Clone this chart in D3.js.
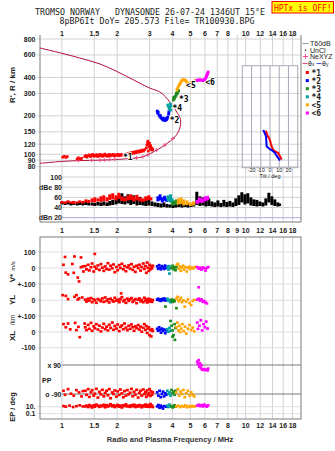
<!DOCTYPE html>
<html>
<head>
<meta charset="utf-8">
<script src="https://cdn.jsdelivr.net/npm/d3@7"></script>
<style>
  html, body { margin: 0; padding: 0; background: #fff; }
  svg { display: block; }
  text { font-family: "Liberation Sans", Arial, sans-serif; fill: #222; }
  .mono { font-family: "DejaVu Sans Mono", "Liberation Mono", monospace; }
</style>
</head>
<body>
<div id="chart"></div>
<script>
// ---- header text
const title1 = 'TROMSO NORWAY   DYNASONDE 26-07-24 1346UT 15°E';
const title2 = '8pBP6It DoY= 205.573 File= TR100930.BPG';
const warnText = 'HPTx is OFF!';

// ---- ticks
const freqTicks = [1, 1.5, 2, 3, 4, 5, 6, 7, 8, 10, 12, 14, 16, 18];
const freqTicksMid = [1, 1.5, 2, 3, 4, 5, 6, 7, 8, 9, 10, 12, 14, 16, 18];
const heightTicks = [800, 600, 400, 300, 200, 150, 120, 100, 90, 80];
const ampTicks = [100, 80, 60, 40, 20];
const ampLabels = ['100', 'dBe 80', '60', '40', 'dBn 20'];
const tiltTicks = [-20, -10, 0, 10, 20];

// ---- model profile curve (MHz, km) and NeXYZ markers
const profile = [[0.76, 680], [1.0, 618], [1.25, 568], [1.61, 510], [2.0, 444], [2.34, 396], [2.65, 361],
  [3.01, 330], [3.41, 308], [3.67, 281], [3.86, 257], [4.06, 234], [4.22, 214], [4.38, 196], [4.43, 179],
  [4.40, 164], [4.27, 147], [4.06, 134], [3.77, 123], [3.50, 114], [3.20, 106], [2.93, 99], [2.65, 94.5],
  [2.07, 91.5], [1.61, 90], [1.25, 89.3], [1.0, 88], [0.76, 85]];
const neXYZ = [[1.23, 89.5], [1.45, 89.8], [1.61, 90], [1.71, 90.5], [1.82, 91], [1.94, 91.3], [2.55, 94],
  [2.76, 96], [2.94, 99], [3.27, 108], [3.63, 118], [4.02, 133]];

// ---- echo traces, virtual height (MHz, km)
const trace1 = [[1.01, 95], [1.03, 96.5], [1.05, 94.5], [1.07, 96], [1.21, 92], [1.23, 94], [1.26, 91.5], [1.28, 93],
  [1.33, 96], [1.35, 98], [1.37, 95], [1.39, 97.5], [1.41, 99], [1.43, 96], [1.45, 98], [1.47, 100], [1.49, 96.5],
  [1.51, 98.5], [1.53, 97], [1.55, 99.5], [1.57, 96], [1.59, 98], [1.61, 100], [1.63, 97], [1.65, 99], [1.67, 96.5],
  [1.69, 98.5], [1.71, 100.5], [1.73, 97.5], [1.75, 99], [1.77, 96.5], [1.79, 98], [1.81, 100], [1.83, 97], [1.85, 99],
  [1.88, 98], [1.9, 100], [1.93, 97], [1.95, 99], [1.98, 98], [2.01, 100], [2.04, 97.5], [2.07, 99.5], [2.1, 98],
  [2.13, 100], [2.16, 99], [2.19, 97.5], [2.25, 101], [2.28, 99.5], [2.31, 102], [2.34, 100.5], [2.37, 103], [2.40, 101],
  [2.44, 104], [2.47, 102], [2.51, 105], [2.54, 103], [2.58, 106], [2.62, 104], [2.66, 107], [2.7, 105], [2.74, 108],
  [2.78, 106], [2.82, 109], [2.88, 112], [2.9, 118], [2.92, 124], [2.94, 127], [2.96, 120], [2.98, 115], [3.0, 122],
  [3.02, 110], [3.04, 117], [3.06, 113], [3.08, 108], [3.1, 111], [2.95, 106], [3.12, 109]];
const trace2 = [[3.30, 218], [3.32, 210], [3.38, 203], [3.41, 199], [3.45, 194], [3.50, 190], [3.53, 188], [3.58, 185],
  [3.63, 185], [3.67, 185], [3.70, 187], [3.74, 192], [3.77, 196], [3.81, 207], [3.82, 215], [3.34, 214], [3.43, 201],
  [3.55, 192], [3.62, 190], [3.72, 190]];
const trace3 = [[4.04, 266], [4.08, 272], [4.11, 279], [4.15, 285], [4.19, 291], [4.23, 298], [4.27, 305], [4.32, 315], [4.06, 280], [4.2, 300]];
const trace4 = [[3.77, 243], [3.81, 235], [3.86, 231], [3.91, 222], [3.94, 239], [3.88, 248], [3.84, 226]];
const trace5 = [[4.22, 319], [4.27, 330], [4.32, 343], [4.36, 352], [4.41, 361], [4.45, 370], [4.49, 378], [4.55, 383],
  [4.60, 385], [4.66, 381], [4.72, 378], [4.78, 368], [4.84, 361], [4.90, 360], [4.96, 359], [5.03, 362], [5.09, 365],
  [5.15, 368], [5.22, 371], [5.28, 375], [5.35, 378]];
const trace6 = [[5.41, 378], [5.48, 381], [5.55, 382], [5.62, 382], [5.70, 382], [5.77, 380], [5.84, 378], [5.92, 382],
  [5.99, 385], [6.05, 394], [6.10, 403], [6.14, 412], [6.17, 421], [6.21, 431], [6.25, 441]];
const traceLabels = [['*1', 2.15, 95.5], ['*2', 3.86, 185], ['*3', 4.34, 272], ['*4', 4.0, 231], ['<5', 4.74, 348], ['<6', 6.02, 370]];

// ---- tilt inset (deg, km)
const thetaX = [[-4.7, 153], [-3.5, 146], [-2.9, 141], [-1, 134], [0, 129.5], [0.8, 122], [2, 115], [3.6, 108], [6, 105],
  [9, 102.5], [11, 96], [12.7, 91]];
const thetaY = [[-7.3, 155], [-6, 148], [-4.3, 138], [-4, 128], [-3.6, 115], [-1, 111], [1.8, 108], [5.4, 102.5], [7, 98],
  [9, 93.5], [10.8, 89.5]];

// ---- amplitudes (MHz, low dB, high dB)
const ampUnCl = [[1.00, 46, 52], [1.04, 45, 51], [1.08, 46, 53], [1.12, 44, 50], [1.16, 45, 52], [1.21, 44, 49], [1.25, 45, 51],
  [1.30, 44, 50], [1.35, 45, 52], [1.40, 44, 49], [1.46, 44, 50], [1.51, 43, 49], [1.57, 44, 51], [1.63, 43, 50], [1.69, 44, 52],
  [1.76, 43, 50], [1.82, 44, 53], [1.89, 45, 55], [1.97, 46, 58], [2.04, 48, 63], [2.12, 47, 68], [2.20, 46, 62], [2.29, 48, 66],
  [2.37, 45, 60], [2.46, 47, 64], [2.56, 44, 58], [2.66, 45, 61], [2.76, 44, 56], [2.86, 43, 54], [2.97, 44, 60], [3.09, 43, 52],
  [3.21, 42, 50], [3.33, 41, 49], [3.46, 40, 48], [3.59, 41, 50], [3.73, 40, 47], [3.87, 40, 46], [4.02, 39, 45], [4.17, 40, 47],
  [4.33, 41, 48], [4.50, 40, 49], [4.67, 41, 46], [4.85, 40, 48], [5.03, 41, 47], [5.22, 42, 48], [5.42, 45, 71], [5.63, 43, 62],
  [5.85, 44, 60], [6.07, 42, 56], [6.30, 43, 58], [6.55, 42, 52], [6.80, 41, 50], [7.06, 42, 54], [7.33, 41, 49], [7.61, 42, 55],
  [7.90, 41, 51], [8.20, 42, 53], [8.52, 41, 50], [8.84, 43, 58], [9.18, 45, 64], [9.53, 50, 70], [9.90, 46, 66], [10.27, 48, 68],
  [10.67, 44, 60], [11.08, 43, 56], [11.50, 42, 55], [11.94, 43, 52], [12.40, 42, 50], [12.87, 44, 58], [13.37, 50, 69],
  [13.88, 45, 62], [14.41, 43, 56], [14.96, 42, 50], [15.3, 43, 48]];
const amp1 = [[1.0, 48, 53], [1.04, 47, 52], [1.08, 49, 54], [1.12, 48, 52], [1.16, 47, 53], [1.21, 48, 52], [1.25, 49, 54],
  [1.30, 48, 53], [1.35, 50, 56], [1.40, 49, 55], [1.46, 51, 58], [1.51, 50, 60], [1.57, 52, 58], [1.63, 51, 62], [1.69, 53, 64],
  [1.76, 52, 60], [1.82, 55, 66], [1.89, 56, 68], [1.97, 54, 64], [2.04, 57, 69], [2.12, 53, 62], [2.20, 52, 60], [2.29, 54, 64],
  [2.37, 55, 66], [2.46, 52, 62], [2.56, 54, 65], [2.66, 52, 60], [2.76, 51, 58], [2.86, 53, 62], [2.97, 55, 64], [3.05, 54, 60]];
const amp2 = [[3.33, 52, 62], [3.42, 54, 66], [3.52, 50, 60], [3.62, 53, 63], [3.72, 51, 58]];
const amp3 = [[4.0, 44, 52], [4.1, 46, 54], [4.2, 45, 56]];
const amp4 = [[3.78, 52, 64], [3.9, 50, 66], [3.98, 48, 58]];
const amp5 = [[4.3, 46, 58], [4.45, 47, 60], [4.6, 44, 56], [4.8, 45, 54], [5.0, 43, 50], [5.2, 44, 52]];
const amp6 = [[5.45, 47, 55], [5.6, 50, 60], [5.8, 49, 58], [6.0, 52, 62], [6.2, 54, 63]];

// ---- lower panel, trace 1 main band frequencies and values
const redF = [1.34, 1.36, 1.39, 1.41, 1.44, 1.46, 1.49, 1.51, 1.54, 1.57, 1.60, 1.63, 1.66, 1.69, 1.72, 1.75, 1.78, 1.81,
  1.84, 1.88, 1.91, 1.94, 1.98, 2.01, 2.05, 2.08, 2.12, 2.16, 2.19, 2.23, 2.27, 2.31, 2.35, 2.39, 2.43, 2.47, 2.51, 2.55,
  2.60, 2.64, 2.68, 2.72, 2.77, 2.81, 2.85, 2.88, 2.91, 2.94, 2.97, 3.00, 3.03, 3.06, 3.09, 3.12];
const redV = [12, -8, 20, -15, 5, 28, -22, 8, -4, 16, -12, 24, 2, -18, 10, -6, 30, -10, 14, -2, 22, -26, 6, -14, 18, 0, 26, -8,
  12, -20, 4, 16, -4, 24, -12, 8, -24, 14, 0, 20, -16, 6, 28, -6, 12, -30, 34, 2, -18, 20, -8, 10, -2, 14];
const redYL = [4, -8, 10, -2, 14, -12, 6, 0, -16, 8, 2, -6, 12, -10, 18, -4, 6, -14, 10, 0, -8, 16, -2, 4, -12, 8, 20, -6, 2,
  -16, 10, -4, 6, 14, -10, 0, 8, -18, 4, 12, -6, 2, -12, 16, -2, 6, -14, 0, 10, -8, 4, -4, -10, 2];
const redXL = [30, 12, 45, 20, 58, 8, 36, 24, 50, 16, 40, 4, 28, 52, 18, 34, 10, 46, 26, 60, 14, 38, 22, 48, 6, 32, 42, 18, 54,
  28, 12, 40, 20, 48, 30, 8, 36, 24, 44, 16, 34, 2, 26, 50, 14, 38, -6, 22, 30, -20, 12, -28, 18, 6];
const redPP = [-70, -95, -60, -108, -80, -66, -100, -88, -58, -112, -76, -92, -64, -104, -84, -70, -98, -60, -116, -80, -90, -68,
  -106, -74, -96, -62, -86, -110, -72, -100, -66, -92, -82, -58, -104, -76, -94, -64, -112, -84, -70, -100, -62, -90, -78, -108,
  -68, -96, -86, -60, -102, -74, -94, -80];
const redEP = [12, 20, 8, 30, 15, 6, 25, 10, 40, 18, 9, 22, 14, 35, 7, 28, 11, 19, 50, 13, 24, 8, 16, 32, 10, 21, 6, 27, 15, 45,
  12, 18, 9, 26, 14, 38, 8, 20, 11, 30, 16, 7, 24, 13, 42, 10, 19, 28, 9, 15, 60, 12, 22, 8];

// ---- lower panel, scattered points (MHz, value)
const vStar = {
  r: [[1.02, 20], [1.04, 69], [1.05, -29], [1.08, -40], [1.14, 25], [1.17, 72], [1.16, -30], [1.22, -60], [1.24, -84],
    [1.27, 66], [1.3, 10], [1.31, -22], [1.27, 5], [1.51, 88]],
  b: [[3.30, 10], [3.34, -5], [3.38, 18], [3.42, 2], [3.46, -8], [3.5, 12], [3.55, 4], [3.6, -6], [3.64, 15], [3.68, 0], [3.72, 8]],
  t: [[3.76, 5], [3.8, -10], [3.84, 12], [3.88, -2], [3.85, -35]],
  g: [[3.95, 0], [4.0, 14], [4.05, -8], [4.1, 6], [4.15, -14], [4.2, 4]],
  o: [[4.22, 20], [4.28, 26], [4.33, -5], [4.38, 10], [4.44, -18], [4.5, 2], [4.56, 14], [4.62, -10], [4.7, 6], [4.78, -22],
    [4.85, 0], [4.92, 8], [5.0, -6], [5.1, 4], [5.2, -2], [5.3, 6]],
  m: [[5.45, 6], [5.55, -4], [5.65, 2], [5.75, -10], [5.85, 4], [5.95, -2], [6.05, -16], [6.15, 0], [6.25, 6]]
};
const yLoc = {
  r: [[1.01, 33], [1.05, 28], [1.08, 8], [1.17, 22], [1.2, 33], [1.24, 12], [1.22, 5], [1.29, 18], [2.1, 44], [2.05, -9]],
  b: [[3.3, 4], [3.34, 10], [3.38, 0], [3.42, 6], [3.46, -4], [3.5, 8], [3.55, 2], [3.6, 12], [3.65, -2], [3.7, 6]],
  t: [[3.75, 10], [3.8, -4], [3.85, 2], [3.9, -12]],
  g: [[3.95, 4], [4.0, -10], [4.05, 2], [4.1, -6], [3.66, -40], [4.2, -50]],
  o: [[4.2, 10], [4.26, 22], [4.32, -6], [4.38, 4], [4.44, 16], [4.5, -12], [4.58, 0], [4.66, -40], [4.75, -8], [4.85, 6],
    [4.95, -18], [5.05, -30], [5.15, -4], [5.25, 2]],
  m: [[5.45, 4], [5.55, 10], [5.65, -2], [5.75, 6], [5.85, -10], [5.95, -4], [6.05, -14], [6.15, -20], [5.55, 83]]
};
const xLoc = {
  r: [[1.02, 50], [1.08, 54], [1.11, 17], [1.18, 58], [1.2, 12], [1.23, 33], [1.25, -33], [1.33, 54], [1.05, 30]],
  b: [[3.3, 20], [3.34, 8], [3.38, 30], [3.42, 14], [3.46, -4], [3.5, 22], [3.55, 6], [3.6, 16], [3.65, -8], [3.7, 10]],
  t: [[3.74, 18], [3.8, 2], [3.85, 26], [3.9, 8]],
  g: [[3.9, 70], [3.95, 40], [4.0, 10], [4.05, -20], [4.1, 50], [4.12, -50], [4.0, -30], [4.15, 25]],
  o: [[4.2, 30], [4.25, 60], [4.3, 10], [4.35, 40], [4.4, 0], [4.46, 22], [4.52, 50], [4.6, 6], [4.68, 34], [4.75, -10],
    [4.85, 20], [4.95, 44], [5.05, 12], [5.15, 28], [5.25, 4]],
  m: [[5.45, 60], [5.5, 20], [5.6, 40], [5.7, 75], [5.8, 10], [5.9, 50], [6.0, 30], [6.1, 66], [6.2, 22]]
};
const polar = {
  r: [[1.02, -70], [1.04, -95], [1.08, -60], [1.12, -88], [1.16, -100], [1.2, -66], [1.24, -80], [1.28, -105], [1.3, -72]],
  b: [[3.3, -80], [3.35, -100], [3.4, -70], [3.45, -110], [3.5, -90], [3.55, -75], [3.6, -105], [3.65, -85], [3.7, -95]],
  t: [[3.75, -70], [3.8, -90], [3.85, -80], [3.9, -100]],
  g: [[3.95, -65], [4.0, -85], [4.05, -75], [4.1, -95], [4.15, -70]],
  o: [[4.2, -80], [4.28, -60], [4.35, -100], [4.42, -75], [4.5, -90], [4.58, -65], [4.66, -110], [4.75, -85], [4.85, -70],
    [4.95, -100], [5.05, -80], [5.15, -95], [5.25, -105]],
  m: [[5.45, 110], [5.5, 95], [5.55, 120], [5.6, 80], [5.65, 100], [5.7, 70], [5.75, 88], [5.8, 60], [5.9, 65], [6.0, 58],
    [6.1, 62], [6.2, 56], [6.25, 68]]
};
const errP = {
  r: [[1.02, 15], [1.05, 10], [1.1, 20], [1.15, 8], [1.2, 14], [1.25, 25], [1.3, 12]],
  b: [[3.3, 12], [3.35, 30], [3.4, 5], [3.45, 20], [3.5, 8], [3.55, 3], [3.6, 15], [3.7, 10]],
  t: [[3.75, 20], [3.8, 8], [3.85, 40], [3.9, 12]],
  g: [[3.95, 15], [4.0, 6], [4.1, 25], [4.15, 10]],
  o: [[4.2, 12], [4.3, 20], [4.4, 8], [4.5, 16], [4.6, 10], [4.7, 25], [4.8, 7], [4.9, 14], [5.0, 9], [5.1, 18], [5.2, 11], [5.3, 13]],
  m: [[5.45, 20], [5.55, 35], [5.65, 15], [5.75, 28], [5.85, 12], [5.95, 40], [6.05, 18], [6.15, 10], [6.25, 25]]
};

const colors = { r: '#ff0000', b: '#0000ff', g: '#1e8c1e', t: '#00a0a0', o: '#ffa500', m: '#ff00ff' };
const legendTraces = [['*1', 'r'], ['*2', 'b'], ['*3', 'g'], ['*4', 't'], ['<5', 'o'], ['<6', 'm']];

// ---- scales
const x = d3.scaleLog().domain([0.76, 20]).range([40, 301]);
const yH = d3.scaleLog().domain([80, 800]).range([166.7, 39]);
const yA = d3.scaleLinear().domain([20, 100]).range([217.7, 177]);
const yV = d3.scaleLinear().domain([-100, 100]).range([284, 252]);
const yYL = d3.scaleLinear().domain([-100, 100]).range([316, 284.6]);
const yXL = d3.scaleLinear().domain([-100, 100]).range([347.7, 316.3]);
const yPP = d3.scaleLinear().domain([-90, 90]).range([394, 365]);
const yEP = d3.scaleLog().domain([0.1, 10]).range([413.7, 406.7]);
const tilt = d3.scaleLinear().domain([-30, 30]).range([242.3, 297.7]);

const fmtF = d => String(d);
const GRID = '#d2d2d2', FRAME = '#7a7a7a', LGRID = '#e4dae4';

const svg = d3.select('#chart').append('svg').attr('width', 335).attr('height', 451);
svg.append('rect').attr('width', 335).attr('height', 451).attr('fill', '#fff');

// header
svg.append('text').attr('class', 'mono').attr('x', 150).attr('y', 15).attr('text-anchor', 'middle')
  .attr('font-size', 8.3).style('white-space', 'pre').text(title1);
svg.append('text').attr('class', 'mono').attr('x', 157).attr('y', 23.5).attr('text-anchor', 'middle')
  .attr('font-size', 8.3).style('white-space', 'pre').text(title2);
svg.append('rect').attr('x', 272).attr('y', 1.5).attr('width', 61.5).attr('height', 11.5)
  .attr('fill', '#ffff00').attr('stroke', '#ff0000');
svg.append('text').attr('class', 'mono').attr('x', 302.8).attr('y', 10.5).attr('text-anchor', 'middle')
  .attr('font-size', 8).style('fill', '#ff0000').text(warnText);

function vlines(g, y0, y1) {
  g.selectAll(null).data(freqTicksMid).enter().append('line')
    .attr('x1', d => x(d)).attr('x2', d => x(d)).attr('y1', y0).attr('y2', y1)
    .attr('stroke', GRID).attr('stroke-width', 1);
}
function hline(g, y, x0, col, w) {
  g.append('line').attr('x1', x0).attr('x2', 301).attr('y1', y).attr('y2', y)
    .attr('stroke', col).attr('stroke-width', w || 1);
}
function freqLabels(y, ticks) {
  svg.append('g').selectAll('text').data(ticks).enter().append('text')
    .attr('x', d => x(d)).attr('y', y).attr('text-anchor', 'middle')
    .attr('font-size', 7).attr('font-weight', 'bold').text(fmtF);
}
function dots(g, data, ys, col, w, h) {
  h = h || w;
  g.selectAll(null).data(data).enter().append('rect')
    .attr('x', d => x(d[0]) - w / 2).attr('y', d => ys(d[1]) - h / 2)
    .attr('width', w).attr('height', h).attr('fill', col);
}
function bars(g, data, col) {
  g.selectAll(null).data(data).enter().append('rect')
    .attr('x', d => x(d[0]) - 1.5).attr('y', d => yA(d[2]))
    .attr('width', 3).attr('height', d => yA(d[1]) - yA(d[2])).attr('fill', col);
}

// ---- upper panel grid
const up = svg.append('g');
vlines(up, 35, 172);
// inset background hides frequency grid
up.append('rect').attr('x', tilt(-30)).attr('y', 65.7).attr('width', tilt(30) - tilt(-30)).attr('height', 102)
  .attr('fill', '#fff');
heightTicks.forEach(h => hline(up, yH(h), 37, GRID));
up.selectAll(null).data(tiltTicks).enter().append('line')
  .attr('x1', d => tilt(d)).attr('x2', d => tilt(d)).attr('y1', 65.7).attr('y2', 167.7)
  .attr('stroke', '#a8a8b8');
up.append('rect').attr('x', tilt(-30)).attr('y', 65.7).attr('width', tilt(30) - tilt(-30)).attr('height', 102)
  .attr('fill', 'none').attr('stroke', '#a8a8b8');

// height labels
svg.append('g').selectAll('text').data(heightTicks).enter().append('text')
  .attr('x', 35.5).attr('y', d => yH(d) + 2.5).attr('text-anchor', 'end')
  .attr('font-size', 7).attr('font-weight', 'bold').text(d => d);
freqLabels(35.5, freqTicks);

// ---- amplitude panel grid
const amp = svg.append('g');
vlines(amp, 172, 222);
ampTicks.forEach(v => hline(amp, yA(v), 62, v === 20 ? '#a8a8e8' : GRID));
amp.selectAll(null).data(ampTicks).enter().append('text')
  .attr('x', 62).attr('y', d => yA(d) + 2.5).attr('text-anchor', 'end')
  .attr('font-size', 7).attr('font-weight', 'bold').text((d, i) => ampLabels[i]);

// frame of upper two panels
svg.append('path').attr('d', 'M40,35V222H301V35').attr('fill', 'none').attr('stroke', FRAME);

freqLabels(232.5, freqTicksMid);

// ---- lower panel grid
const lo = svg.append('g');
vlines(lo, 237, 419);
const lowTicks = [[yV(100), '100'], [yV(0), '0'], [yV(-100), '+-100'], [yYL(0), '0'], [yYL(-100), '+-100'],
  [yXL(0), '0'], [yXL(-100), '-100'], [yEP(10), '10.'], [yEP(0.1), '0.1']];
lowTicks.forEach(t => hline(lo, t[0], 37, LGRID));
hline(lo, yPP(90), 62, '#777');
hline(lo, yPP(-90), 62, '#777');
lo.append('rect').attr('x', 40).attr('y', 237).attr('width', 261).attr('height', 182)
  .attr('fill', 'none').attr('stroke', FRAME);
lo.selectAll(null).data(lowTicks).enter().append('text')
  .attr('x', 35.5).attr('y', d => d[0] + 2.5).attr('text-anchor', 'end')
  .attr('font-size', 7).attr('font-weight', 'bold').text(d => d[1]);
lo.append('text').attr('x', 61).attr('y', yPP(90) + 2.5).attr('text-anchor', 'end')
  .attr('font-size', 7).attr('font-weight', 'bold').text('x 90');
lo.append('text').attr('x', 42).attr('y', 382.5).attr('font-size', 7).attr('font-weight', 'bold').text('PP');
lo.append('text').attr('x', 61.5).attr('y', yPP(-90) + 2.5).attr('text-anchor', 'end')
  .attr('font-size', 7).attr('font-weight', 'bold').text('o -90');
freqLabels(428, freqTicks);

svg.append('text').attr('x', 170).attr('y', 442).attr('text-anchor', 'middle')
  .attr('font-size', 7.5).attr('font-weight', 'bold').style('fill', '#333').text('Radio and Plasma Frequency / MHz');

// rotated axis titles
function vtitle(txt, cy, size, bold) {
  svg.append('text').attr('transform', 'translate(15,' + cy + ') rotate(-90)')
    .attr('text-anchor', 'middle').attr('font-size', size).attr('font-weight', bold ? 'bold' : 'normal').text(txt);
}
vtitle("R', R / km", 85, 8, true);
vtitle('V*', 278, 8, true);
vtitle('m/s', 266, 6, false);
vtitle('YL', 300, 8, true);
vtitle('/km', 320, 6.5, false);
vtitle('XL', 336, 8, true);
vtitle('EP / deg', 407, 7.5, true);

// ---- data: amplitudes
const ampG = svg.append('g');
bars(ampG, ampUnCl, '#000');
bars(ampG, amp1, colors.r);
bars(ampG, amp2, colors.b);
bars(ampG, amp4, colors.t);
bars(ampG, amp3, colors.g);
bars(ampG, amp5, colors.o);
bars(ampG, amp6, colors.m);

// ---- data: inset tilts
const tline = d3.line().x(d => tilt(d[0])).y(d => yH(d[1]));
svg.append('path').datum(thetaX).attr('d', tline).attr('fill', 'none').attr('stroke', '#ff0000').attr('stroke-width', 2);
svg.append('path').datum(thetaY).attr('d', tline).attr('fill', 'none').attr('stroke', '#0000ff').attr('stroke-width', 2);
svg.append('g').selectAll('text').data(tiltTicks).enter().append('text')
  .attr('x', d => tilt(d)).attr('y', 172).attr('text-anchor', 'middle').attr('font-size', 5.5).text(d => d);
svg.append('text').attr('x', 270).attr('y', 177.5).attr('text-anchor', 'middle').attr('font-size', 5.5).text('Tilt / deg');

// ---- data: profile and traces
const pline = d3.line().x(d => x(d[0])).y(d => yH(d[1])).curve(d3.curveCatmullRom);
svg.append('path').datum(profile).attr('d', pline).attr('fill', 'none').attr('stroke', '#b0103c').attr('stroke-width', 1);
svg.append('g').selectAll('path').data(neXYZ).enter().append('path')
  .attr('d', d => { const px = x(d[0]), py = yH(d[1]); return 'M' + (px - 2) + ',' + py + 'H' + (px + 2) + 'M' + px + ',' + (py - 2) + 'V' + (py + 2); })
  .attr('stroke', '#e8508c').attr('stroke-width', 1);

const tr = svg.append('g');
dots(tr, trace1, yH, colors.r, 2.6);
dots(tr, trace2, yH, colors.b, 2.8);
dots(tr, trace4, yH, colors.t, 2.8);
dots(tr, trace3, yH, colors.g, 2.8);
dots(tr, trace5, yH, colors.o, 2.8);
dots(tr, trace6, yH, colors.m, 2.8);
tr.selectAll('text').data(traceLabels).enter().append('text')
  .attr('class', 'mono').attr('x', d => x(d[1])).attr('y', d => yH(d[2]) + 3)
  .attr('font-size', 8).attr('font-weight', 'bold')
  .style('fill', '#000').style('paint-order', 'stroke').style('stroke', '#fff').style('stroke-width', 1.5)
  .text(d => d[0]);

// ---- data: lower panel
const lw = svg.append('g');
const zipRed = vals => redF.map((f, i) => [f, vals[i]]);
dots(lw, zipRed(redV), yV, colors.r, 3, 2.6);
dots(lw, zipRed(redYL), yYL, colors.r, 3, 2.6);
dots(lw, zipRed(redXL), yXL, colors.r, 3, 2.6);
dots(lw, zipRed(redPP), yPP, colors.r, 3, 2.6);
dots(lw, zipRed(redEP), yEP, colors.r, 3, 2.6);
['r', 'b', 't', 'g', 'o', 'm'].forEach(k => {
  dots(lw, vStar[k], yV, colors[k], 2.8, 2.6);
  dots(lw, yLoc[k], yYL, colors[k], 2.8, 2.6);
  dots(lw, xLoc[k], yXL, colors[k], 2.8, 2.6);
  dots(lw, polar[k], yPP, colors[k], 2.8, 2.6);
  dots(lw, errP[k], yEP, colors[k], 2.8, 2.6);
});

// ---- legend
const lg = svg.append('g').attr('font-size', 7);
lg.append('line').attr('x1', 302.5).attr('x2', 308.5).attr('y1', 43.5).attr('y2', 43.5).attr('stroke', '#999');
lg.append('text').attr('x', 310).attr('y', 46).text('T60dB');
lg.append('rect').attr('x', 305).attr('y', 49.5).attr('width', 1.2).attr('height', 1.2).attr('fill', '#000');
lg.append('text').attr('x', 310).attr('y', 52.5).text('UnCl');
lg.append('path').attr('d', 'M303,56.5H308M305.5,54V59').attr('stroke', '#e8508c');
lg.append('text').attr('x', 310).attr('y', 59).text('NeXYZ');
lg.append('line').attr('x1', 302.5).attr('x2', 307.5).attr('y1', 63.5).attr('y2', 63.5).attr('stroke', '#e05070');
const tx = lg.append('text').attr('x', 308).attr('y', 66);
tx.append('tspan').text('θ');
tx.append('tspan').attr('font-size', 5).text('x');
lg.append('line').attr('x1', 316.5).attr('x2', 321.5).attr('y1', 63.5).attr('y2', 63.5).attr('stroke', '#5050e0');
const ty = lg.append('text').attr('x', 322).attr('y', 66);
ty.append('tspan').text('θ');
ty.append('tspan').attr('font-size', 5).text('y');
legendTraces.forEach((d, i) => {
  const yy = 72.5 + i * 8.1;
  lg.append('rect').attr('x', 305.8).attr('y', yy - 1.5).attr('width', 3).attr('height', 3).attr('fill', colors[d[1]]);
  lg.append('text').attr('class', 'mono').attr('x', 311.5).attr('y', yy + 3).attr('font-size', 8)
    .attr('font-weight', 'bold').text(d[0]);
});
</script>
</body>
</html>
